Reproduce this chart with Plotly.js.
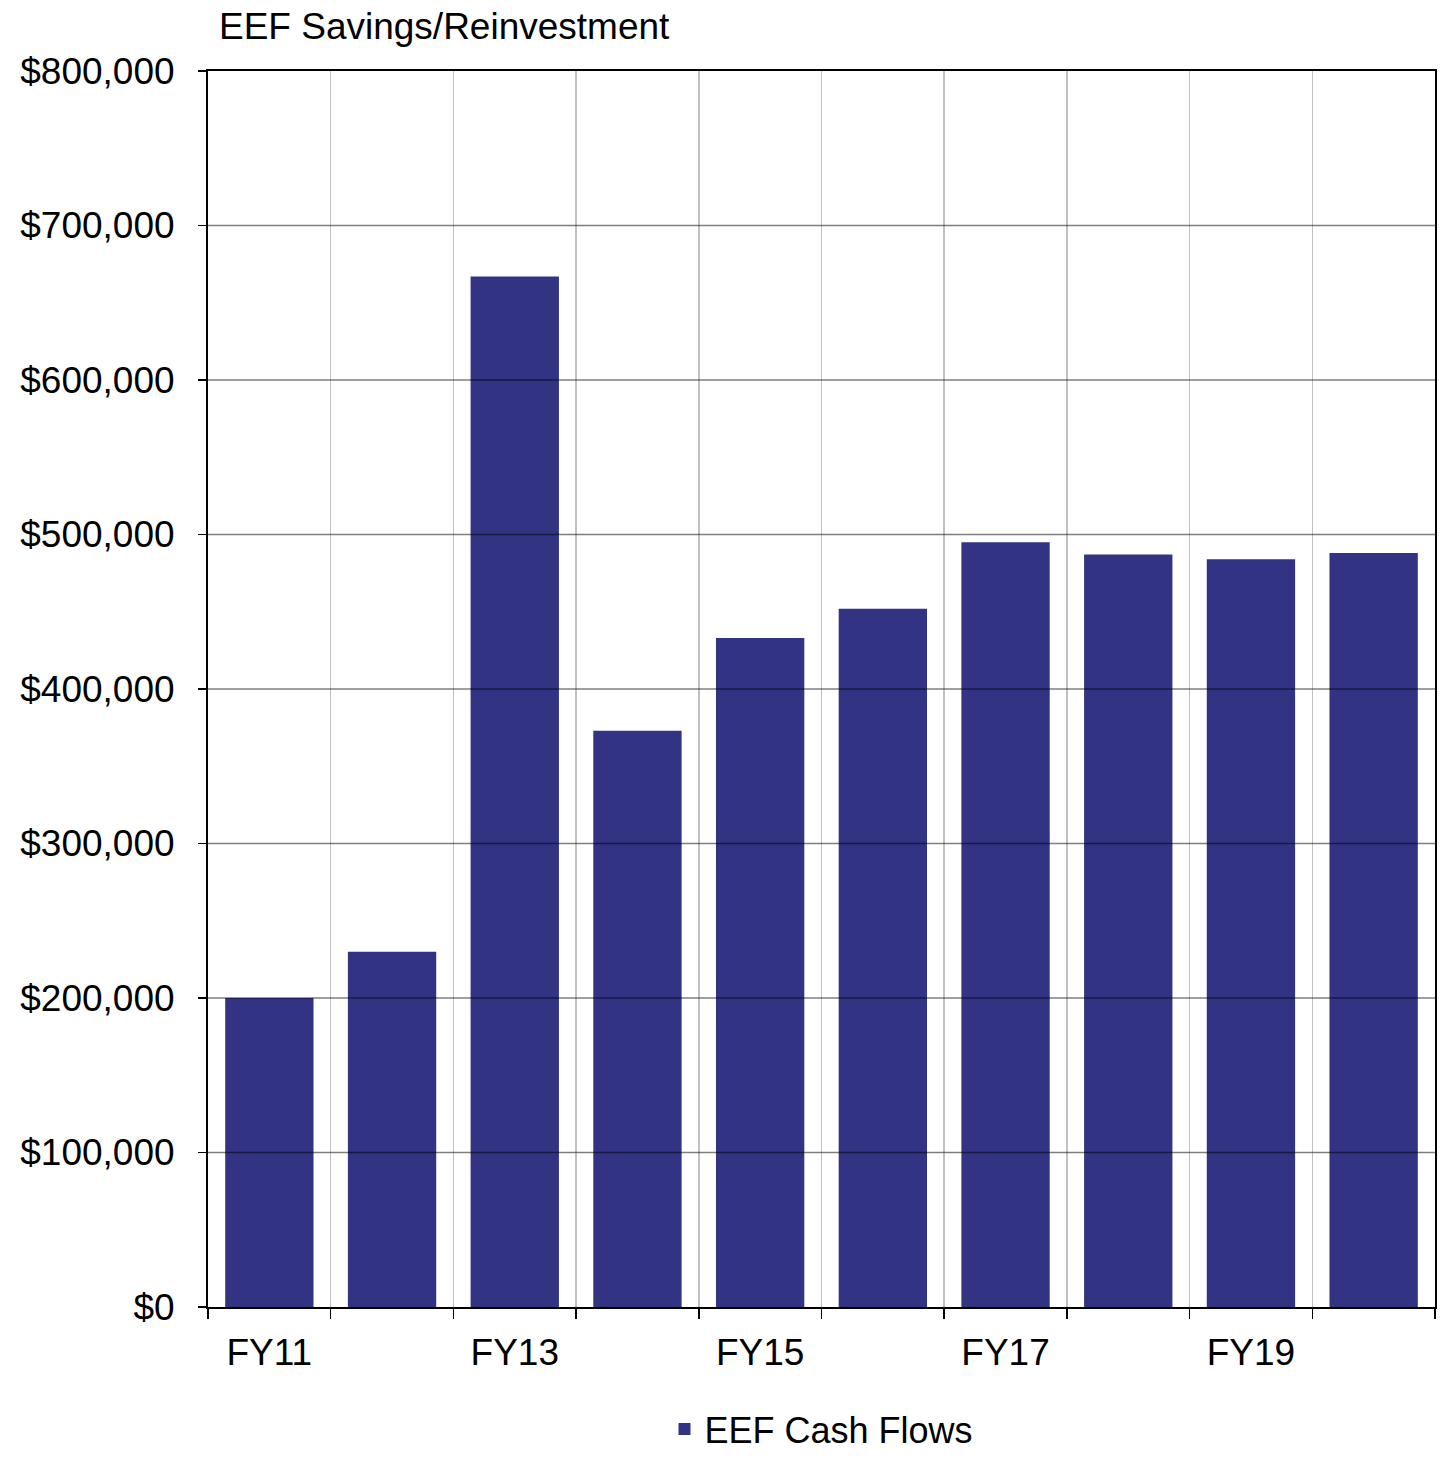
<!DOCTYPE html>
<html>
<head>
<meta charset="utf-8">
<script src="https://cdn.plot.ly/plotly-3.0.1.min.js"></script>
<style>html,body{margin:0;padding:0;background:#fff;}</style>
</head>
<body>
<div id="chart" style="width:1449px;height:1459px;"></div>
<script>
const categories = ['FY11','FY12','FY13','FY14','FY15','FY16','FY17','FY18','FY19','FY20'];
const cashFlows = [200000, 230000, 667000, 373000, 433000, 452000, 495000, 487000, 484000, 488000];
const xTickText = ['FY11','','FY13','','FY15','','FY17','','FY19',''];
const yTickVals = [0, 100000, 200000, 300000, 400000, 500000, 600000, 700000, 800000];
const seriesName = 'EEF Cash Flows';
const chartTitle = 'EEF Savings/Reinvestment';

const FONT = 'Liberation Sans, Arial, sans-serif';

const yTickText = yTickVals.map(v => '$' + v.toLocaleString('en-US'));

const gridShapes = yTickVals.filter(v => v > 0 && v < 800000).map(v => ({
  type: 'line', xref: 'paper', yref: 'y', x0: 0, x1: 1, y0: v, y1: v,
  line: {color: 'rgba(0,0,0,0.5)', width: 1.5}, layer: 'above'
}));

const data = [{
  type: 'bar',
  x: categories,
  y: cashFlows,
  name: seriesName,
  marker: {color: '#333383', line: {width: 0}},
  showlegend: true
}];

const layout = {
  width: 1449, height: 1459,
  margin: {l: 208, r: 14, t: 71, b: 152, autoexpand: false},
  paper_bgcolor: '#ffffff', plot_bgcolor: '#ffffff',
  font: {family: FONT, size: 37, color: '#000000'},
  title: {
    text: chartTitle,
    font: {family: FONT, size: 37, color: '#000000'},
    x: 219/1449, xref: 'container', xanchor: 'left',
    y: 1 - 26/1459, yref: 'container', yanchor: 'middle'
  },
  bargap: 0.28,
  xaxis: {
    type: 'category',
    tickmode: 'array',
    tickvals: categories,
    ticktext: xTickText,
    tickson: 'boundaries',
    ticks: 'outside', ticklen: 10, tickwidth: 1.5, tickcolor: '#000',
    showgrid: true, gridcolor: '#c0c0c0', gridwidth: 1.5,
    showline: true, linecolor: '#000', linewidth: 2, mirror: true,
    tickfont: {family: FONT, size: 37, color: '#000'},
    ticklabelstandoff: 12,
    automargin: false,
    zeroline: false, fixedrange: true
  },
  yaxis: {
    range: [0, 800000],
    tickmode: 'array',
    tickvals: yTickVals,
    ticktext: yTickText,
    ticks: 'outside', ticklen: 8, tickwidth: 1.5, tickcolor: '#000',
    showgrid: false,
    showline: true, linecolor: '#000', linewidth: 2, mirror: true,
    tickfont: {family: FONT, size: 37, color: '#000'},
    ticklabelstandoff: 16,
    automargin: false,
    zeroline: false, fixedrange: true
  },
  shapes: gridShapes,
  showlegend: true,
  legend: {
    orientation: 'h',
    x: 0.5, xanchor: 'center',
    y: (1307 - 1459) / 1236, yanchor: 'bottom',
    font: {family: FONT, size: 36, color: '#000'},
    bgcolor: 'rgba(0,0,0,0)'
  }
};

Plotly.newPlot('chart', data, layout, {displayModeBar: false, staticPlot: true});
</script>
</body>
</html>
